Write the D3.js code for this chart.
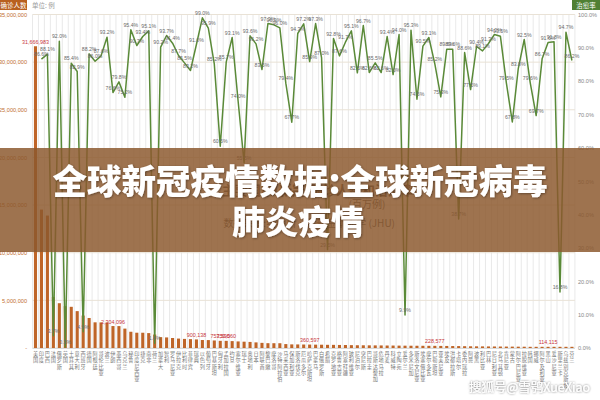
<!DOCTYPE html>
<html><head><meta charset="utf-8">
<script src="https://cdn.jsdelivr.net/npm/d3@7"></script>
<style>body{margin:0;background:#fff}svg{display:block}</style>
</head><body><svg id="c" width="600" height="400"></svg>
<script>
const categories = ["美国","印度","巴西","法国","俄罗斯","英国","土耳其","意大利","西班牙","德国","阿根廷","哥伦比亚","波兰","伊朗","墨西哥","乌克兰","秘鲁","印度尼西亚","捷克","南非","荷兰","加拿大","智利","罗马尼亚","伊拉克","比利时","菲律宾","瑞典","以色列","葡萄牙","巴基斯坦","匈牙利","孟加拉国","约旦","塞尔维亚","瑞士","奥地利","日本","阿联酋","黎巴嫩","摩洛哥","沙特阿拉伯","马来西亚","保加利亚","斯洛伐克","厄瓜多尔","哈萨克斯坦","巴拿马","白俄罗斯","希腊","克罗地亚","格鲁吉亚","阿塞拜疆","玻利维亚","尼泊尔","突尼斯","巴拉圭","哥斯达黎加","危地马拉","丹麦","科威特","立陶宛","爱尔兰","多米尼加","斯洛文尼亚","埃塞俄比亚","摩尔多瓦","巴勒斯坦","亚美尼亚","埃及","洪都拉斯","卡塔尔","委内瑞拉","阿曼","波黑","利比亚","巴林","尼日利亚","北马其顿","肯尼亚","蒙古","阿尔巴尼亚","拉脱维亚","韩国","挪威","阿尔及利亚","黑山","爱沙尼亚","斯里兰卡","乌兹别克斯坦","芬兰"];
const confirmed = [31666983,14526609,13900091,5343000,4700000,4393000,4323000,3870000,3407000,3150000,2694000,2685000,2672000,2304096,2299000,2035000,1706000,1604000,1602000,1564000,1413000,1140000,1110000,1050000,990000,955000,930000,900138,838000,831000,790000,753590,750560,723000,690000,663000,638000,590000,540000,505000,502000,500000,410000,380000,375000,366000,360597,352000,345000,334000,330000,320000,315000,300000,290000,285000,280000,275000,270000,262000,258000,250000,245000,240000,236000,233000,230000,228577,220000,215000,205000,200000,190000,180000,175000,170000,165000,160000,155000,150000,145000,140000,135000,125000,121000,117000,114115,110000,105000,100000,95000];
const cureRate = [null,86.6,88.1,3.7,92.0,0.3,85.4,82.9,4.9,88.2,86.0,87.6,93.2,76.6,79.8,75.2,95.4,90.7,93.4,95.1,1.4,90.2,93.7,91.4,87.7,85.5,83.2,91.0,99.0,95.9,85.2,60.5,85.7,93.1,74.0,55.5,93.6,91.2,83.5,97.3,96.9,96.0,79.4,67.7,94.3,97.2,85.9,97.3,87.0,29.5,92.8,87.6,91.7,95.1,82.5,96.7,82.6,85.5,82.6,93.4,82.0,94.0,9.9,95.3,74.6,90.5,93.1,85.2,75.3,89.6,89.6,38.7,88.6,77.5,90.4,89.1,91.3,94.0,93.5,79.5,67.8,83.8,92.5,79.6,69.7,86.7,91.6,91.8,16.8,94.7,86.2];
const leftTicks = [0,5000000,10000000,15000000,20000000,25000000,30000000,35000000];
const rightTicks = [0,10,20,30,40,50,60,70,80,90,100];
const labelledBars = [0,13,27,31,32,46,67,86];

const svg = d3.select("#c");
const x = d3.scaleBand().domain(categories).range([32.5, 574.9]).paddingInner(0.48).paddingOuter(0.24);
const yL = d3.scaleLinear().domain([0, 35000000]).range([348, 14.5]);
const yR = d3.scaleLinear().domain([0, 100]).range([348, 14.5]);
const step = x.step();
const cx = c => x(c) + x.bandwidth() / 2;

svg.append("g").selectAll("line").data(d3.range(categories.length + 1)).join("line")
  .attr("x1", i => x.range()[0] + i * step).attr("x2", i => x.range()[0] + i * step)
  .attr("y1", yL(35000000)).attr("y2", yL(0))
  .attr("stroke", "#e3e3e3").attr("stroke-width", 0.8);
svg.append("g").selectAll("line").data(leftTicks).join("line")
  .attr("x1", x.range()[0]).attr("x2", x.range()[1])
  .attr("y1", d => yL(d)).attr("y2", d => yL(d))
  .attr("stroke", "#e9e2d6").attr("stroke-width", 1);

const gl = svg.append("g").attr("transform", "translate(30,0)")
  .call(d3.axisLeft(yL).tickValues(leftTicks).tickSize(0).tickPadding(3)
    .tickFormat(d => d === 0 ? "-" : d3.format(",")(d)));
gl.select(".domain").remove();
gl.selectAll("text").attr("font-size", 5.6).attr("fill", "#c0702e").attr("font-family", "Liberation Sans, Arial, sans-serif");

const gr = svg.append("g").attr("transform", "translate(577,0)")
  .call(d3.axisRight(yR).tickValues(rightTicks).tickSize(0).tickPadding(1)
    .tickFormat(d => d.toFixed(1) + "%"));
gr.select(".domain").remove();
gr.selectAll("text").attr("font-size", 5.6).attr("fill", "#888").attr("font-family", "Liberation Sans, Arial, sans-serif");

svg.append("g").selectAll("rect").data(categories).join("rect")
  .attr("x", c => x(c)).attr("width", x.bandwidth())
  .attr("y", (c, i) => Math.min(yL(confirmed[i]), yL(0) - 1.2))
  .attr("height", (c, i) => Math.max(yL(0) - yL(confirmed[i]), 1.2))
  .attr("fill", "#bf6528");

svg.append("line").attr("x1", x.range()[0]).attr("x2", x.range()[1])
  .attr("y1", yL(0) + 0.5).attr("y2", yL(0) + 0.5).attr("stroke", "#d9d9d9");

const gb = svg.append("g").attr("transform", `translate(0,${yL(0)})`)
  .call(d3.axisBottom(x).tickSize(0).tickPadding(0));
gb.select(".domain").remove();
gb.selectAll("text").each(function(c) {
  const t = d3.select(this).text(null).attr("font-size", 5.2).attr("fill", "#777")
    .attr("font-family", "Noto Sans CJK SC, sans-serif").attr("y", 0).attr("dy", 0);
  Array.from(c).forEach((ch, k) => t.append("tspan").attr("x", 0).attr("y", 8 + k * 6.3).text(ch));
});

svg.append("g").selectAll("text").data(labelledBars).join("text")
  .attr("x", i => cx(categories[i])).attr("y", i => yL(confirmed[i]) - 2.5)
  .attr("text-anchor", "middle").attr("font-size", 5.4).attr("fill", "#c8363c")
  .attr("font-family", "Liberation Sans, Arial, sans-serif")
  .text(i => d3.format(",")(confirmed[i]));

const line = d3.line().defined(d => d.v != null).x(d => cx(d.c)).y(d => yR(d.v));
const lineData = categories.map((c, i) => ({c, v: cureRate[i]}));
svg.append("path").datum(lineData).attr("d", line)
  .attr("fill", "none").attr("stroke", "#5a8a38").attr("stroke-width", 1.5).attr("stroke-linejoin", "round");
svg.append("g").selectAll("text").data(lineData.filter(d => d.v != null)).join("text")
  .attr("x", d => cx(d.c)).attr("y", d => yR(d.v) - 3)
  .attr("text-anchor", "middle").attr("font-size", 5.2).attr("fill", "#6a6a6a")
  .attr("font-family", "Liberation Sans, Arial, sans-serif")
  .text(d => d.v.toFixed(1) + "%");

svg.append("rect").attr("x", 0).attr("y", 0).attr("width", 27).attr("height", 10).attr("fill", "#b8601f");
svg.append("text").attr("x", 13.5).attr("y", 7.8).attr("text-anchor", "middle").attr("font-size", 6.5)
  .attr("fill", "#fff").attr("font-family", "Noto Sans CJK SC, sans-serif").text("确诊人数");
svg.append("text").attr("x", 32).attr("y", 8).attr("font-size", 6.5).attr("fill", "#9a9a9a")
  .attr("font-family", "Noto Sans CJK SC, sans-serif").text("单位:  例");
svg.append("rect").attr("x", 572).attr("y", 0).attr("width", 28).attr("height", 10).attr("fill", "#4f7f33");
svg.append("text").attr("x", 586).attr("y", 7.8).attr("text-anchor", "middle").attr("font-size", 6.5)
  .attr("fill", "#fff").attr("font-family", "Noto Sans CJK SC, sans-serif").text("治愈率");

const ft = "Noto Sans CJK SC, sans-serif";
svg.append("text").attr("x", 318).attr("y", 195).attr("text-anchor", "middle").attr("font-size", 13)
  .attr("font-weight", "bold").attr("fill", "#444").attr("font-family", ft).text("主要国家(新冠)确诊人数和治愈率");
svg.append("text").attr("x", 367).attr("y", 208).attr("text-anchor", "middle").attr("font-size", 10)
  .attr("fill", "#555").attr("font-family", ft).text("(百万例)");
svg.append("text").attr("x", 395).attr("y", 227).attr("text-anchor", "end").attr("font-size", 10)
  .attr("fill", "#555").attr("font-family", ft).text("数据来源:约翰斯·霍普金斯大学 (JHU)");

svg.append("rect").attr("x", 0).attr("y", 148).attr("width", 600).attr("height", 104)
  .attr("fill", "rgb(140,88,45)").attr("fill-opacity", 0.84);
const defs = svg.append("defs");
const f = defs.append("filter").attr("id", "sh").attr("x", "-10%").attr("y", "-20%").attr("width", "120%").attr("height", "140%");
f.append("feDropShadow").attr("dx", 0.8).attr("dy", 0.8).attr("stdDeviation", 0.8).attr("flood-color", "#000").attr("flood-opacity", 0.4);
svg.append("text").attr("x", 300).attr("y", 194).attr("text-anchor", "middle").attr("font-size", 34.5)
  .attr("font-weight", 900).attr("fill", "#fff").attr("font-family", ft).attr("filter", "url(#sh)")
  .text("全球新冠疫情数据:全球新冠病毒");
svg.append("text").attr("x", 298).attr("y", 234).attr("text-anchor", "middle").attr("font-size", 33)
  .attr("font-weight", 900).attr("fill", "#fff").attr("font-family", ft).attr("filter", "url(#sh)")
  .text("肺炎疫情");

const f2 = defs.append("filter").attr("id", "wm").attr("x", "-10%").attr("y", "-30%").attr("width", "120%").attr("height", "160%");
f2.append("feDropShadow").attr("dx", 0).attr("dy", 0).attr("stdDeviation", 1).attr("flood-color", "#000").attr("flood-opacity", 0.6);
svg.append("text").attr("x", 590).attr("y", 392).attr("text-anchor", "end").attr("font-size", 12.5)
  .attr("fill", "#fff").attr("font-family", ft).attr("filter", "url(#wm)").text("搜狐号@雪鸮XueXiao");
</script></body></html>
